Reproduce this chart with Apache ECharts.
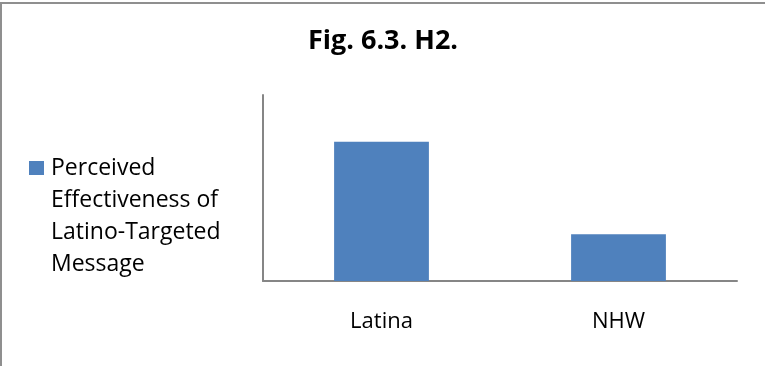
<!DOCTYPE html>
<html>
<head>
<meta charset="utf-8">
<script src="https://cdn.jsdelivr.net/npm/echarts@6/dist/echarts.min.js"></script>
<style>
  body { margin: 0; background: #fff; }
  #chart { width: 765px; height: 366px; }
</style>
</head>
<body>
<div id="chart"></div>
<script>
const categories = ['Latina', 'NHW']
const seriesName = 'Perceived\nEffectiveness of\nLatino-Targeted\nMessage'
const values = [3.74, 1.26]

let chart = echarts.init(document.getElementById('chart'))

let options = {
  animation: false,
  textStyle: { fontFamily: 'Open Sans' },
  title: {
    text: 'Fig. 6.3. H2.',
    left: 378,
    textAlign: 'center',
    top: 23,
    textStyle: { fontSize: 27, fontWeight: 'bold', color: '#000', fontFamily: 'Open Sans' }
  },
  legend: {
    left: 29,
    top: 56,
    padding: 0,
    itemWidth: 15,
    itemHeight: 14,
    itemGap: 0,
    icon: 'rect',
    // blank lines above keep the first text line level with the square
    formatter: name => '\n\n\n' + name,
    textStyle: {
      fontSize: 23,
      lineHeight: 32,
      color: '#000',
      padding: [0, 0, 0, 2]
    }
  },
  grid: {
    left: 263,
    right: 28,
    top: 95,
    bottom: 85
  },
  xAxis: {
    type: 'category',
    data: categories,
    axisLine: { lineStyle: { color: '#868686', width: 2 } },
    axisTick: { show: false },
    axisLabel: { fontSize: 22, color: '#000', margin: 30 }
  },
  yAxis: {
    type: 'value',
    min: 0,
    max: 5,
    axisLine: { show: true, lineStyle: { color: '#868686', width: 2 } },
    axisTick: { show: false },
    axisLabel: { show: false },
    splitLine: { show: false }
  },
  series: [{
    name: seriesName,
    type: 'bar',
    data: values,
    barCategoryGap: '60%',
    itemStyle: { color: '#4f81bd' }
  }],
  graphic: [
    { type: 'line', shape: { x1: 0, y1: 3, x2: 765, y2: 3 }, style: { stroke: '#8f8f8f', lineWidth: 2 } },
    { type: 'line', shape: { x1: 1, y1: 3, x2: 1, y2: 366 }, style: { stroke: '#8f8f8f', lineWidth: 2 } }
  ]
}
chart.setOption(options)
</script>
</body>
</html>
